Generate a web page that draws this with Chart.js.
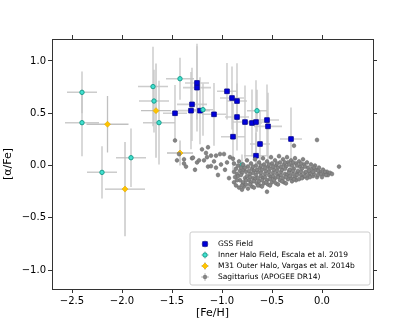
<!DOCTYPE html>
<html>
<head>
<meta charset="utf-8">
<script src="https://cdn.jsdelivr.net/npm/chart.js@4.4.1/dist/chart.umd.min.js"></script>
<style>
  html, body { margin: 0; padding: 0; background: #fff; }
</style>
</head>
<body>
<canvas id="abundChart" width="415" height="332"></canvas>
<script>
// ---- data ----
var xTicks = [-2.5, -2.0, -1.5, -1.0, -0.5, 0.0];
var yTicks = [-1.0, -0.5, 0.0, 0.5, 1.0];

var gssFeH      = [-1.25, -1.25, -1.30, -1.47, -1.31, -1.22, -1.08, -0.95, -0.90, -0.85, -0.85, -0.77, -0.70, -0.66, -0.55, -0.54, -0.89, -0.62, -0.66, -0.31];
var gssAlpha    = [0.79, 0.745, 0.585, 0.50, 0.525, 0.525, 0.49, 0.71, 0.646, 0.617, 0.464, 0.416, 0.407, 0.416, 0.435, 0.375, 0.276, 0.206, 0.094, 0.254];
var gssFeHErr   = [0.12, 0.14, 0.15, 0.12, 0.13, 0.10, 0.12, 0.10, 0.12, 0.10, 0.12, 0.12, 0.10, 0.14, 0.12, 0.14, 0.12, 0.10, 0.12, 0.11];
var gssAlphaErr = [0.35, 0.42, 0.35, 0.27, 0.37, 0.32, 0.30, 0.27, 0.30, 0.36, 0.32, 0.35, 0.32, 0.40, 0.34, 0.32, 0.32, 0.32, 0.22, 0.30];

var haloFeH      = [-2.40, -2.40, -1.69, -1.68, -1.63, -1.42, -1.19, -1.91, -2.20, -0.65, -0.80];
var haloAlpha    = [0.70, 0.41, 0.755, 0.617, 0.41, 0.83, 0.534, 0.075, -0.065, 0.524, 0.005];
var haloFeHErr   = [0.15, 0.17, 0.15, 0.15, 0.16, 0.14, 0.10, 0.15, 0.15, 0.10, 0.08];
var haloAlphaErr = [0.20, 0.32, 0.38, 0.30, 0.40, 0.20, 0.25, 0.28, 0.25, 0.20, 0.10];

var m31FeH      = [-2.145, -1.66, -1.42, -1.97];
var m31Alpha    = [0.395, 0.525, 0.12, -0.225];
var m31FeHErr   = [0.21, 0.15, 0.13, 0.20];
var m31AlphaErr = [0.27, 0.45, 0.12, 0.45];

var sgrErr = [0.02, 0.025];
var sgrStars = [
  [-1.47,0.24],[-1.45,0.05],[-1.43,0.11],[-1.38,0.06],[-1.38,0.02],[-1.36,-0.01],[-1.30,0.07],[-1.29,0.075],
  [-1.27,-0.04],[-1.25,0.03],[-1.23,0.05],[-1.20,0.155],[-1.18,0.05],[-1.16,0.12],[-1.15,0.08],[-1.14,0.175],
  [-1.14,-0.01],[-1.11,0.095],[-1.11,-0.005],[-1.08,0.04],[-1.06,0.095],[-1.06,-0.02],[-1.04,-0.09],[-1.02,0.11],
  [-1.01,0.01],[-0.98,0.11],[-0.97,-0.04],[-0.95,0.03],[-0.93,-0.12],[-0.92,0.08],[-0.89,0.065],[-0.88,0.02],
  [-0.88,-0.16],[-0.82,-0.14],[-0.79,-0.17],[-0.80,-0.23],
  [-0.86,-0.03],[-0.85,-0.08],[-0.87,-0.11],[-0.84,0.00],[-0.86,-0.19],
  [-0.83,0.04],[-0.82,-0.05],[-0.84,-0.10],[-0.81,-0.02],[-0.83,-0.21],
  [-0.79,0.01],[-0.78,-0.04],[-0.80,-0.07],[-0.77,-0.12],[-0.79,-0.16],[-0.78,-0.20],
  [-0.75,0.05],[-0.74,-0.01],[-0.76,-0.06],[-0.75,-0.10],[-0.73,-0.14],[-0.76,-0.18],[-0.74,-0.22],
  [-0.71,0.02],[-0.70,-0.03],[-0.72,-0.08],[-0.69,-0.12],[-0.71,-0.16],[-0.70,-0.20],
  [-0.67,0.06],[-0.66,0.00],[-0.68,-0.05],[-0.66,-0.09],[-0.67,-0.13],[-0.65,-0.17],[-0.68,-0.21],
  [-0.63,0.03],[-0.62,-0.02],[-0.64,-0.06],[-0.61,-0.10],[-0.63,-0.15],[-0.62,-0.19],
  [-0.59,0.07],[-0.58,0.01],[-0.60,-0.04],[-0.57,-0.08],[-0.59,-0.12],[-0.58,-0.17],[-0.60,-0.20],
  [-0.55,0.04],[-0.54,-0.01],[-0.56,-0.05],[-0.53,-0.09],[-0.55,-0.14],[-0.54,-0.18],[-0.55,-0.25],
  [-0.51,0.08],[-0.50,0.02],[-0.52,-0.03],[-0.49,-0.07],[-0.51,-0.11],[-0.50,-0.16],[-0.52,-0.19],
  [-0.47,0.05],[-0.46,0.00],[-0.48,-0.04],[-0.45,-0.08],[-0.47,-0.12],[-0.46,-0.17],
  [-0.43,0.09],[-0.42,0.03],[-0.44,-0.02],[-0.41,-0.06],[-0.43,-0.10],[-0.42,-0.14],[-0.44,-0.18],
  [-0.39,0.06],[-0.38,0.01],[-0.40,-0.04],[-0.37,-0.08],[-0.39,-0.12],[-0.38,-0.16],
  [-0.35,0.08],[-0.34,0.03],[-0.36,-0.01],[-0.33,-0.05],[-0.35,-0.09],[-0.34,-0.13],[-0.36,-0.17],
  [-0.31,0.05],[-0.30,0.00],[-0.32,-0.04],[-0.29,-0.08],[-0.31,-0.12],[-0.30,-0.15],
  [-0.27,0.07],[-0.26,0.02],[-0.28,-0.03],[-0.25,-0.07],[-0.27,-0.11],[-0.26,-0.14],
  [-0.23,0.04],[-0.22,-0.01],[-0.24,-0.05],[-0.21,-0.09],[-0.23,-0.13],
  [-0.19,0.06],[-0.18,0.01],[-0.20,-0.03],[-0.17,-0.07],[-0.19,-0.11],
  [-0.15,0.03],[-0.14,-0.02],[-0.16,-0.06],[-0.13,-0.09],[-0.15,-0.12],
  [-0.11,0.01],[-0.10,-0.03],[-0.12,-0.07],[-0.09,-0.10],
  [-0.07,0.00],[-0.06,-0.04],[-0.08,-0.08],[-0.05,-0.11],
  [-0.03,-0.02],[-0.02,-0.06],[-0.04,-0.09],
  [0.01,-0.04],[0.02,-0.08],[0.00,-0.11],
  [0.05,-0.06],[0.06,-0.09],[0.08,-0.07],
  [0.17,-0.01],[-0.05,0.245],[-0.28,0.19],
  [-0.88,-0.06],[-0.85,-0.14],[-0.81,-0.09],[-0.80,-0.19],[-0.77,-0.02],[-0.76,-0.14],[-0.73,-0.05],[-0.72,-0.11],
  [-0.72,-0.18],[-0.69,-0.01],[-0.69,-0.07],[-0.68,-0.15],[-0.65,-0.04],[-0.64,-0.12],[-0.64,-0.19],[-0.61,0.00],
  [-0.61,-0.07],[-0.60,-0.14],[-0.57,-0.02],[-0.57,-0.11],[-0.56,-0.16],[-0.53,0.01],[-0.53,-0.06],[-0.52,-0.13],
  [-0.49,-0.01],[-0.49,-0.10],[-0.48,-0.14],[-0.45,0.02],[-0.45,-0.05],[-0.44,-0.11],[-0.41,-0.01],[-0.41,-0.09],
  [-0.40,-0.15],[-0.37,0.03],[-0.37,-0.03],[-0.36,-0.11],[-0.33,0.01],[-0.33,-0.07],[-0.32,-0.10],[-0.29,0.03],
  [-0.29,-0.05],[-0.28,-0.13],[-0.25,0.00],[-0.25,-0.09],[-0.21,0.02],[-0.21,-0.06],[-0.20,-0.12],[-0.17,-0.01],
  [-0.17,-0.10],[-0.13,-0.05],[-0.12,-0.11],[-0.09,-0.06],[-0.08,-0.02],[-0.04,-0.05],[-0.01,-0.08],[0.03,-0.06],
  [0.04,-0.09],[0.10,-0.08]
];

var seriesNames = [
  'GSS Field',
  'Inner Halo Field, Escala et al. 2019',
  'M31 Outer Halo, Vargas et al. 2014b',
  'Sagittarius (APOGEE DR14)'
];

function zipPoints(xs, ys, xe, ye) {
  return xs.map(function (v, i) { return { x: v, y: ys[i], xe: xe[i], ye: ye[i] }; });
}

var FONT = 'DejaVu Sans';
var fmt = function (v) { return (v < 0 ? '\u2212' : '') + Math.abs(v).toFixed(1); };

// error bars drawn under the markers
var errorBars = {
  id: 'errorBars',
  beforeDatasetsDraw: function (chart) {
    var ctx = chart.ctx, a = chart.chartArea, sx = chart.scales.x, sy = chart.scales.y;
    ctx.save();
    ctx.beginPath();
    ctx.rect(a.left, a.top, a.right - a.left, a.bottom - a.top);
    ctx.clip();
    chart.data.datasets.forEach(function (ds) {
      ctx.strokeStyle = ds.errColor;
      ctx.lineWidth = ds.errWidth;
      ds.data.forEach(function (p) {
        var px = sx.getPixelForValue(p.x), py = sy.getPixelForValue(p.y);
        ctx.beginPath();
        ctx.moveTo(sx.getPixelForValue(p.x - p.xe), py);
        ctx.lineTo(sx.getPixelForValue(p.x + p.xe), py);
        ctx.moveTo(px, sy.getPixelForValue(p.y - p.ye));
        ctx.lineTo(px, sy.getPixelForValue(p.y + p.ye));
        ctx.stroke();
      });
    });
    ctx.restore();
  }
};

// matplotlib-like legend box in the lower right
var boxLegend = {
  id: 'boxLegend',
  afterDraw: function (chart) {
    var ctx = chart.ctx;
    var bx = 190, by = 232, bw = 180, bh = 53;
    ctx.save();
    ctx.beginPath();
    if (ctx.roundRect) ctx.roundRect(bx, by, bw, bh, 2); else ctx.rect(bx, by, bw, bh);
    ctx.fillStyle = 'rgba(255,255,255,0.8)';
    ctx.fill();
    ctx.strokeStyle = '#cccccc';
    ctx.lineWidth = 1;
    ctx.stroke();
    chart.data.datasets.forEach(function (ds, i) {
      var my = 244 + i * 11, mx = 205;
      ctx.strokeStyle = ds.errColor;
      ctx.lineWidth = 1;
      ctx.beginPath();
      ctx.moveTo(mx - 4, my); ctx.lineTo(mx + 4, my);
      ctx.moveTo(mx, my - 4); ctx.lineTo(mx, my + 4);
      ctx.stroke();
      ctx.fillStyle = ds.backgroundColor;
      ctx.strokeStyle = ds.borderColor;
      ctx.lineWidth = ds.borderWidth;
      Chart.helpers.drawPoint(ctx, { pointStyle: ds.pointStyle, radius: ds.pointRadius, borderWidth: ds.borderWidth, rotation: 0 }, mx, my);
      ctx.fillStyle = '#000';
      ctx.font = '7.5px "' + FONT + '"';
      ctx.textAlign = 'left';
      ctx.textBaseline = 'middle';
      ctx.fillText(ds.label, 218, my + 0.5);
    });
    ctx.restore();
  }
};

function setTicks(list) {
  return function (scale) { scale.ticks = list.map(function (v) { return { value: v }; }); };
}

var gridOpts = { display: true, drawOnChartArea: false, drawTicks: true, tickLength: 4, tickColor: '#333', tickWidth: 1 };
var borderOpts = { display: true, color: '#333', width: 1 };

new Chart(document.getElementById('abundChart'), {
  type: 'scatter',
  data: {
    datasets: [
      {
        label: seriesNames[0],
        data: zipPoints(gssFeH, gssAlpha, gssFeHErr, gssAlphaErr),
        pointStyle: 'rect', pointRadius: 3.3, borderWidth: 0.8,
        backgroundColor: '#0000dd', borderColor: '#00008b',
        errColor: 'rgba(200,200,200,0.85)', errWidth: 1.6, order: 4
      },
      {
        label: seriesNames[1],
        data: zipPoints(haloFeH, haloAlpha, haloFeHErr, haloAlphaErr),
        pointStyle: 'circle', pointRadius: 2.2, borderWidth: 1,
        backgroundColor: '#40e0d0', borderColor: '#1a9e8c',
        errColor: 'rgba(195,195,195,0.85)', errWidth: 1.5, order: 3
      },
      {
        label: seriesNames[2],
        data: zipPoints(m31FeH, m31Alpha, m31FeHErr, m31AlphaErr),
        pointStyle: 'rectRot', pointRadius: 3.0, borderWidth: 0.6,
        backgroundColor: '#ffc400', borderColor: '#e0a800',
        errColor: 'rgba(185,185,185,0.9)', errWidth: 1.3, order: 2
      },
      {
        label: seriesNames[3],
        data: sgrStars.map(function (s) { return { x: s[0], y: s[1], xe: sgrErr[0], ye: sgrErr[1] }; }),
        pointStyle: 'circle', pointRadius: 1.9, borderWidth: 0.5,
        backgroundColor: '#858585', borderColor: '#6a6a6a',
        errColor: 'rgba(160,160,160,0.7)', errWidth: 0.7, order: 1
      }
    ]
  },
  options: {
    responsive: false,
    devicePixelRatio: 1,
    animation: false,
    layout: { padding: 0 },
    plugins: { legend: { display: false }, tooltip: { enabled: false } },
    scales: {
      x: {
        type: 'linear', position: 'bottom', min: -2.7, max: 0.51,
        afterBuildTicks: setTicks(xTicks),
        afterFit: function (s) { s.height = 43; },
        grid: gridOpts, border: borderOpts,
        ticks: { color: '#000', padding: 2, font: { family: FONT, size: 10 }, callback: fmt, maxRotation: 0 },
        title: { display: true, text: '[Fe/H]', color: '#000', font: { family: FONT, size: 11 }, padding: { top: 0, bottom: 12 } }
      },
      x2: {
        type: 'linear', axis: 'x', position: 'top', min: -2.7, max: 0.51,
        afterBuildTicks: setTicks(xTicks),
        afterFit: function (s) { s.height = 39; },
        grid: gridOpts, border: borderOpts,
        ticks: { display: false }
      },
      y: {
        type: 'linear', position: 'left', min: -1.18, max: 1.21,
        afterBuildTicks: setTicks(yTicks),
        afterFit: function (s) { s.width = 52; },
        grid: gridOpts, border: borderOpts,
        ticks: { color: '#000', padding: 2, font: { family: FONT, size: 10 }, callback: fmt },
        title: { display: true, text: '[α/Fe]', color: '#000', font: { family: FONT, size: 11 }, padding: { top: 2, bottom: 0 } }
      },
      y2: {
        type: 'linear', axis: 'y', position: 'right', min: -1.18, max: 1.21,
        afterBuildTicks: setTicks(yTicks),
        afterFit: function (s) { s.width = 42; },
        grid: gridOpts, border: borderOpts,
        ticks: { display: false }
      }
    }
  },
  plugins: [errorBars, boxLegend]
});
</script>
</body>
</html>
